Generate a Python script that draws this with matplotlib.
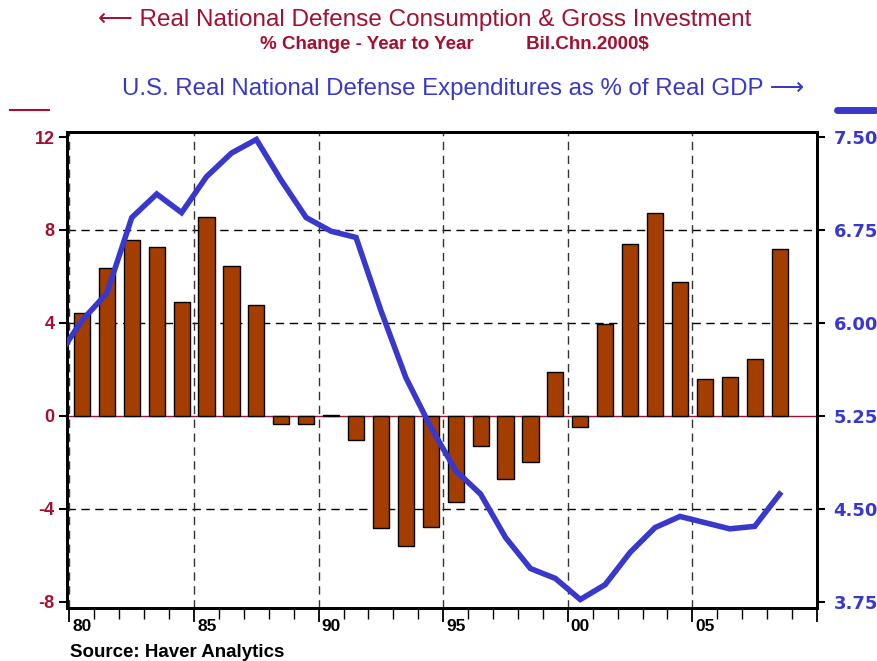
import matplotlib.pyplot as plt
import matplotlib.transforms as mtransforms
from matplotlib.lines import Line2D

# Bars: real national defense consumption & gross investment, % change y/y
bar_years = list(range(1980, 2009))
bar_values = [4.42, 6.35, 7.57, 7.28, 4.92, 8.55, 6.45, 4.77, -0.34, -0.34,
              0.05, -1.03, -4.80, -5.58, -4.76, -3.69, -1.28, -2.71, -1.99, 1.91,
              -0.46, 3.94, 7.41, 8.72, 5.78, 1.58, 1.69, 2.45, 7.17]

# Line: defense expenditures as % of real GDP (right axis)
line_years = list(range(1979, 2009))
line_values = [5.72, 6.02, 6.24, 6.85, 7.04, 6.89, 7.18, 7.37, 7.48, 7.15,
               6.85, 6.74, 6.69, 6.10, 5.56, 5.16, 4.81, 4.62, 4.27, 4.02,
               3.94, 3.77, 3.89, 4.15, 4.35, 4.44, 4.39, 4.34, 4.36, 4.62]

left_ticks = [-8, -4, 0, 4, 8, 12]
right_ticks = [3.75, 4.50, 5.25, 6.00, 6.75, 7.50]
xtick_years = [1980, 1985, 1990, 1995, 2000, 2005]
xtick_labels = ['80', '85', '90', '95', '00', '05']

crimson = '#A50F30'
blue = '#3838CC'
bar_color = '#A43D00'
fam = ['Liberation Sans', 'DejaVu Sans']

fig = plt.figure(figsize=(8.78, 6.61), dpi=100)
ax = fig.add_axes([0.0763, 0.0802, 0.8542, 0.7201])

ax.bar([y + 0.5 for y in bar_years], bar_values, width=0.65,
       color=bar_color, edgecolor='black', linewidth=1.0, zorder=3)
ax.axhline(0, color=crimson, lw=1.0, zorder=2)

ax.set_xlim(1979.9, 2009.95)
ax.set_ylim(-8.258, 12.215)

# grid
for v in [-4, 4, 8]:
    ax.axhline(v, color='black', lw=1.0, ls=(0, (6, 4)), zorder=1)
for yr in xtick_years:
    ax.axvline(yr, color='#333333', lw=1.0, ls=(0, (6, 4)), zorder=1)

ax2 = ax.twinx()
ax2.set_ylim(5.25 + 0.1875 * -8.258, 5.25 + 0.1875 * 12.215)
ax2.plot([y + 0.5 for y in line_years], line_values, color=blue, lw=4.0,
         solid_joinstyle='miter', zorder=4)
ax2.set_xlim(1979.9, 2009.95)

for s in ax.spines.values():
    s.set_linewidth(2.0)
for s in ax2.spines.values():
    s.set_linewidth(2.0)

ax.set_yticks(left_ticks)
ax.set_yticklabels([str(t) for t in left_ticks], color=crimson,
                   fontweight='bold', fontsize=13, family=fam)
ax.tick_params(axis='y', direction='out', length=6, width=1.5, pad=3)

ax2.set_yticks(right_ticks)
ax2.set_yticklabels(['%.2f' % t for t in right_ticks], color=blue,
                    fontweight='bold', fontsize=13)
ax2.tick_params(axis='y', direction='out', length=6, width=1.5, pad=6)

ax.set_xticks(xtick_years + [2010])
ax.set_xticklabels(xtick_labels + [''], fontsize=12.5, fontweight='bold', family=fam)
ax.set_xticks(range(1980, 2011), minor=True)
ax.tick_params(axis='x', which='major', direction='out', length=10, width=1.3, pad=-2)
ax.tick_params(axis='x', which='minor', direction='out', length=8, width=1.0)
shift = mtransforms.ScaledTranslation(3 / 100, 0, fig.dpi_scale_trans)
for lbl in ax.get_xticklabels():
    lbl.set_ha('left')
    lbl.set_transform(lbl.get_transform() + shift)

# titles
fig.text(0.484, 0.969, '\u27f5 Real National Defense Consumption & Gross Investment',
         color=crimson, fontsize=17.5, ha='center', va='center', family=fam)
fig.text(0.518, 0.932, '% Change - Year to Year          Bil.Chn.2000$',
         color=crimson, fontsize=13.5, fontweight='bold', ha='center', va='center',
         family=fam)
fig.text(0.527, 0.866, 'U.S. Real National Defense Expenditures as % of Real GDP \u27f6',
         color=blue, fontsize=17.3, ha='center', va='center', family=fam)

fig.add_artist(Line2D([0.011, 0.056], [0.834, 0.834], color=crimson, lw=1.5,
                      transform=fig.transFigure))
fig.add_artist(Line2D([0.953, 0.997], [0.834, 0.834], color=blue, lw=5,
                      solid_capstyle='round', transform=fig.transFigure))

fig.text(0.080, 0.0136, 'Source: Haver Analytics', fontsize=13.5, fontweight='bold',
         family=fam, ha='left', va='center')

fig.savefig('out.png', dpi=100)
